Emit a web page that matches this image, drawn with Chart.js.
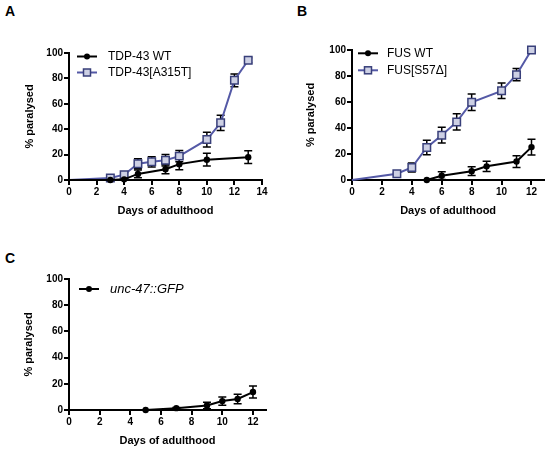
<!DOCTYPE html>
<html>
<head>
<meta charset="utf-8">
<script src="https://cdn.jsdelivr.net/npm/chart.js@4.4.1/dist/chart.umd.min.js"></script>
<style>
  body { margin: 0; background: #fff; width: 551px; height: 450px; position: relative; overflow: hidden; font-family: "Liberation Sans", Arial, sans-serif; }
  canvas { position: absolute; }
  .tag { position: absolute; font-weight: bold; font-size: 14px; line-height: 14px; color: #000; }
</style>
</head>
<body>
<div class="tag" style="left:5px;top:4px">A</div>
<div class="tag" style="left:297px;top:4px">B</div>
<div class="tag" style="left:5px;top:251px">C</div>
<canvas id="chartA" width="275" height="225" style="left:0;top:0"></canvas>
<canvas id="chartB" width="276" height="225" style="left:275px;top:0"></canvas>
<canvas id="chartC" width="275" height="225" style="left:0;top:225px"></canvas>
<script>
// panel A - TDP-43
const daysA_wt = [0, 3, 4, 5, 7, 8, 10, 13];
const wtA = [0, 0, 0.5, 4.8, 8.5, 12.5, 16, 18];
const wtA_err = [0, 0, 1, 3, 3.5, 4.5, 5, 5];
const daysA_mut = [0, 3, 4, 5, 6, 7, 8, 10, 11, 12, 13];
const mutA = [0, 1.5, 4.2, 12.8, 14.3, 15.6, 18.8, 31.8, 45, 78.5, 94.3];
const mutA_err = [0, 1, 1.5, 4, 4, 4.5, 4.5, 5.8, 6, 5, 2];

// panel B - FUS
const daysB_wt = [5, 6, 8, 9, 11, 12];
const wtB = [0, 3.3, 6.8, 10.5, 14.2, 25.3];
const wtB_err = [0, 3, 3.3, 4, 4.5, 6];
const daysB_mut = [0, 3, 4, 5, 6, 7, 8, 10, 11, 12];
const mutB = [0, 4.8, 9.6, 25, 34.5, 44.7, 59.8, 68.6, 81, 100];
const mutB_err = [0, 0.8, 3.5, 5.5, 6, 6.3, 6.3, 6, 4.7, 0];

// panel C - unc-47::GFP
const daysC = [5, 7, 9, 10, 11, 12];
const unc47 = [0, 1.4, 3.5, 6.8, 8.4, 13.7];
const unc47_err = [0, 0.5, 2.5, 3.2, 3.7, 4.6];

const xTicksA = [0, 2, 4, 6, 8, 10, 12, 14];
const xTicksBC = [0, 2, 4, 6, 8, 10, 12];
const yTicks = [0, 20, 40, 60, 80, 100];

const BLUE = '#5459a6';
const FONT = '"Liberation Sans", Arial, sans-serif';
const tickFont = { family: FONT, size: 10, weight: 'bold' };
const titleFont = { family: FONT, size: 11, weight: 'bold' };

const pairs = (xs, ys) => xs.map((x, i) => ({ x: x, y: ys[i] }));

// vertical SEM bars, drawn under the markers
const errorBars = {
  id: 'errorBars',
  beforeDatasetsDraw(chart) {
    const ctx = chart.ctx, xs = chart.scales.x, ys = chart.scales.y;
    ctx.save();
    ctx.strokeStyle = '#000';
    ctx.lineWidth = 1.5;
    chart.data.datasets.forEach(ds => {
      ds.data.forEach((p, j) => {
        const e = ds.errors[j];
        if (!e) return;
        const px = xs.getPixelForValue(p.x);
        const top = ys.getPixelForValue(p.y + e);
        const bot = ys.getPixelForValue(Math.max(0, p.y - e));
        ctx.beginPath();
        ctx.moveTo(px, top); ctx.lineTo(px, bot);
        ctx.moveTo(px - 4, top); ctx.lineTo(px + 4, top);
        ctx.moveTo(px - 4, bot); ctx.lineTo(px + 4, bot);
        ctx.stroke();
      });
    });
    ctx.restore();
  }
};

// legend inside the plot, top left
const insideLegend = {
  id: 'insideLegend',
  afterDraw(chart, args, opts) {
    const ctx = chart.ctx, a = chart.chartArea;
    chart.data.datasets.forEach((ds, i) => {
      const y = a.top + opts.top + i * opts.gap;
      const x0 = a.left + opts.left;
      ctx.save();
      ctx.strokeStyle = ds.borderColor;
      ctx.lineWidth = 2;
      ctx.beginPath(); ctx.moveTo(x0, y); ctx.lineTo(x0 + 20, y); ctx.stroke();
      if (ds.pointStyle === 'rect') {
        ctx.fillStyle = ds.pointBackgroundColor;
        ctx.strokeStyle = ds.pointBorderColor;
        ctx.lineWidth = 1.5;
        ctx.fillRect(x0 + 6.5, y - 3.5, 7, 7);
        ctx.strokeRect(x0 + 6.5, y - 3.5, 7, 7);
      } else {
        ctx.fillStyle = '#000';
        ctx.beginPath(); ctx.arc(x0 + 10, y, 3, 0, Math.PI * 2); ctx.fill();
      }
      ctx.fillStyle = '#000';
      ctx.font = opts.font;
      ctx.textBaseline = 'middle';
      ctx.fillText(ds.label, x0 + opts.textGap, y);
      ctx.restore();
    });
  }
};

function wtSet(label, xs, ys, err) {
  return {
    label: label, data: pairs(xs, ys), errors: err,
    borderColor: '#000', borderWidth: 2, tension: 0, clip: false,
    pointStyle: 'circle', pointBackgroundColor: '#000', pointBorderColor: '#000',
    pointRadius: c => (c.raw && c.raw.x === 0 ? 0 : 3.2), pointBorderWidth: 0
  };
}
function mutSet(label, xs, ys, err) {
  return {
    label: label, data: pairs(xs, ys), errors: err,
    borderColor: BLUE, borderWidth: 2, tension: 0, clip: false,
    pointStyle: 'rect', pointBackgroundColor: '#cdd0e4', pointBorderColor: '#383f7a',
    pointRadius: c => (c.raw && c.raw.x === 0 ? 0 : 5.3), pointBorderWidth: 1.5
  };
}

function makeChart(id, datasets, p) {
  return new Chart(document.getElementById(id), {
    type: 'line',
    data: { datasets: datasets },
    options: {
      responsive: false, animation: false, events: [],
      layout: { padding: { left: 0, top: p.top, right: p.right, bottom: 0 } },
      plugins: {
        legend: { display: false }, tooltip: { enabled: false },
        insideLegend: p.legend
      },
      scales: {
        x: {
          type: 'linear', min: 0, max: p.xMax,
          afterFit: s => { s.height = p.xHeight; },
          afterBuildTicks: s => { s.ticks = p.xTicks.map(v => ({ value: v })); },
          border: { color: '#000', width: 2 },
          grid: { drawOnChartArea: false, color: '#000', lineWidth: 2, tickLength: 5 },
          ticks: { color: '#000', font: tickFont, padding: 1, maxRotation: 0, autoSkip: false },
          title: { display: true, text: 'Days of adulthood', color: '#000', font: titleFont, padding: { top: 0, bottom: p.xTitlePad } }
        },
        y: {
          min: 0, max: 100,
          afterFit: s => { s.width = p.yWidth; },
          afterBuildTicks: s => { s.ticks = yTicks.map(v => ({ value: v })); },
          border: { color: '#000', width: 2 },
          grid: { drawOnChartArea: false, color: '#000', lineWidth: 2, tickLength: 5 },
          ticks: { color: '#000', font: tickFont, padding: 1 },
          title: { display: true, text: '% paralysed', color: '#000', font: titleFont, padding: { top: p.yTitlePad, bottom: 0 } }
        }
      }
    },
    plugins: [errorBars, insideLegend]
  });
}

makeChart('chartA', [
  wtSet('TDP-43 WT', daysA_wt, wtA, wtA_err),
  mutSet('TDP-43[A315T]', daysA_mut, mutA, mutA_err)
], { top: 53, right: 13, xMax: 14, xTicks: xTicksA, xHeight: 45, xTitlePad: 7.4, yWidth: 69, yTitlePad: 23.4,
     legend: { left: 8, top: 3.5, gap: 16, textGap: 31, font: '12px ' + FONT } });

makeChart('chartB', [
  wtSet('FUS WT', daysB_wt, wtB, wtB_err),
  mutSet('FUS[S57\u0394]', daysB_mut, mutB, mutB_err)
], { top: 50, right: 6, xMax: 12.85, xTicks: xTicksBC, xHeight: 45, xTitlePad: 7.4, yWidth: 77, yTitlePad: 29,
     legend: { left: 6, top: 3.3, gap: 17, textGap: 29, font: '12px ' + FONT } });

makeChart('chartC', [
  wtSet('unc-47::GFP', daysC, unc47, unc47_err)
], { top: 54, right: 9, xMax: 12.85, xTicks: xTicksBC, xHeight: 40, xTitlePad: 2.4, yWidth: 69, yTitlePad: 22.4,
     legend: { left: 10, top: 10, gap: 16, textGap: 31, font: 'italic 13px ' + FONT } });
</script>
</body>
</html>
